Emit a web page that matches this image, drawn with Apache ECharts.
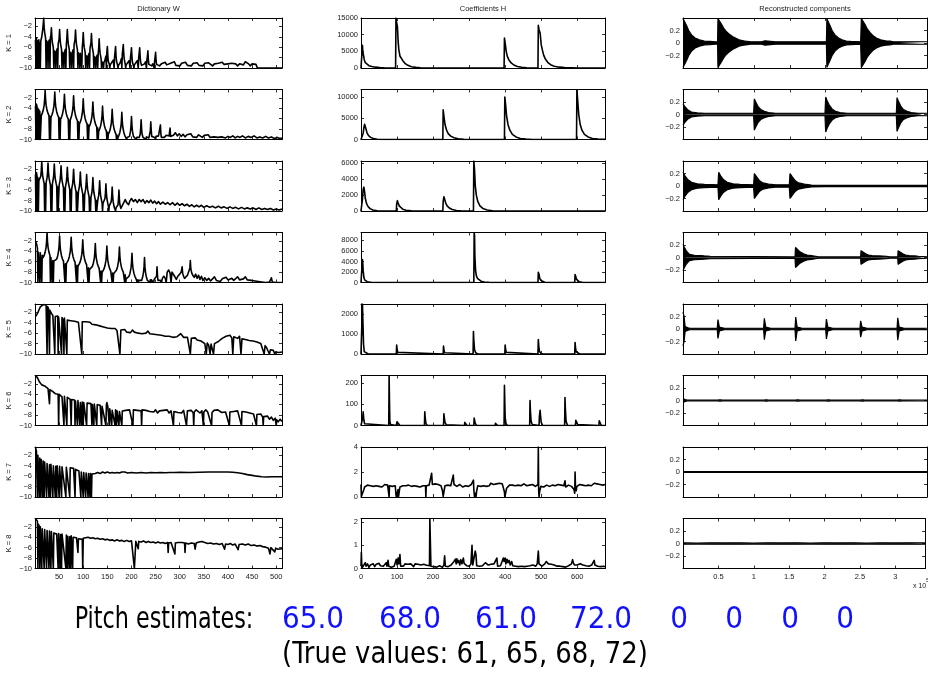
<!DOCTYPE html>
<html>
<head>
<meta charset="utf-8">
<title>NMF pitch estimation</title>
<script src="https://cdn.jsdelivr.net/npm/echarts@6.0.0/dist/echarts.min.js"></script>
<style>
  html, body { margin: 0; padding: 0; background: #fff; }
  #chart { width: 928px; height: 675px; }
</style>
</head>
<body>
<div id="chart"></div>
<script>
// Dictionary W (log spectra), [bin, value]
var W1 = [[1,-4.6],[2,-10],[3,-4.2],[4,-4.5],[5,-10],[6,-4.8],[7,-10],[8,-4.6],[9,-10],[10,-5.2],[11,-10],[12,-4.8],[14,-4],[16,-2.6],[17,-1.6],[18,-0.4],[19,-2.2],[20,-3.2],[22,-4.2],[23,-10],[24,-4.8],[26,-5.2],[27,-10],[28,-5],[30,-4.6],[31,-10],[32,-4.1],[33,-3.7],[34,-2.3],[35,-4.1],[36,-5.1],[38,-6.1],[39,-10],[40,-6.7],[42,-7.1],[43,-10],[44,-6.9],[46,-6.3],[47,-10],[48,-5.4],[50,-4.4],[51,-2.6],[52,-4.4],[53,-5.4],[55,-6.4],[56,-10],[57,-7],[59,-7.4],[60,-10],[61,-7],[63,-6.4],[64,-10],[65,-5.4],[66,-4.4],[67,-2.6],[68,-4.4],[69,-5.4],[71,-6.4],[72,-10],[73,-7],[75,-7.4],[76,-10],[77,-7.1],[79,-6.5],[80,-10],[81,-5.5],[83,-4.5],[84,-2.7],[85,-4.5],[86,-5.5],[88,-6.5],[89,-10],[90,-7.1],[92,-7.5],[93,-10],[94,-7.2],[96,-6.9],[97,-10],[98,-6],[99,-5],[100,-3.2],[101,-5],[102,-6],[104,-7],[105,-10],[106,-7.6],[108,-8],[109,-10],[110,-7.7],[112,-7.2],[113,-10],[114,-6.2],[116,-5.2],[117,-3.4],[118,-5.2],[119,-6.2],[121,-7.2],[122,-10],[123,-7.8],[125,-8.2],[126,-10],[127,-8],[129,-7.5],[130,-10],[131,-7.2],[132,-6.2],[133,-4.4],[134,-6.2],[135,-7.2],[137,-8.2],[138,-10],[139,-8.8],[141,-9.2],[142,-10],[143,-8.9],[145,-8.5],[147,-7.7],[148,-10],[149,-6.9],[150,-5.9],[151,-7.7],[152,-8.7],[154,-9.3],[155,-10],[156,-9.4],[158,-9.6],[160,-9.2],[162,-8.5],[164,-10],[165,-7.7],[166,-6.9],[167,-5.9],[168,-7.7],[169,-8.7],[171,-9.4],[172,-10],[173,-9.5],[175,-9.3],[177,-8.9],[179,-8.2],[180,-10],[181,-7.3],[182,-6.5],[183,-5.5],[184,-7.3],[185,-8.3],[187,-9.2],[188,-10],[189,-9.4],[191,-9.5],[193,-9.1],[195,-8.6],[197,-10],[198,-7.9],[199,-7.1],[200,-6.1],[201,-7.9],[202,-8.9],[204,-9.5],[205,-10],[206,-9.4],[208,-9.6],[210,-9.2],[212,-8.6],[214,-10],[215,-7.9],[216,-7.1],[217,-6.1],[218,-7.9],[219,-8.9],[221,-9.5],[223,-9.3],[225,-9.6],[227,-9.2],[229,-8.8],[231,-10],[232,-8.5],[233,-7.7],[234,-6.7],[235,-8.5],[236,-9.3],[238,-9.6],[240,-9.3],[242,-9.6],[244,-9.2],[246,-8.9],[247,-10],[248,-8.6],[249,-7.9],[250,-7],[251,-8.6],[252,-9.3],[254,-9.5],[256,-9.2],[258,-9.6],[262,-9.2],[266,-9.5],[270,-8.9],[273,-9.4],[277,-9.6],[281,-9.1],[285,-9.4],[289,-8.8],[292,-9.5],[296,-9.3],[300,-9.6],[304,-9.1],[308,-9.4],[312,-8.9],[316,-9.5],[320,-9.2],[324,-9.6],[328,-9.1],[332,-9.4],[336,-9],[340,-9.5],[344,-9.2],[348,-9.6],[352,-9.1],[356,-9.4],[360,-9],[364,-9.3],[368,-9.6],[372,-9.2],[376,-9.5],[380,-9.1],[384,-9.4],[388,-8.9],[392,-9.3],[396,-9.6],[400,-9.2],[404,-9.5],[408,-9.1],[412,-9.4],[416,-9.2],[420,-9.6],[424,-9.2],[428,-8.9],[432,-9.4],[436,-8.8],[440,-8.6],[443,-9.2],[446,-9.6],[450,-9.2],[454,-9.5],[458,-9.3],[461,-10],[512,-10]];
var W2 = [[1,-3.5],[2,-10],[3,-3.2],[4,-3.6],[5,-10],[6,-4],[7,-10],[8,-4.3],[9,-10],[10,-4.6],[11,-10],[13,-5.4],[15,-5],[17,-4.4],[19,-3.4],[20,-2.4],[21,-0.6],[22,-2.4],[23,-3.4],[25,-4.4],[27,-5],[29,-5.4],[30,-10],[31,-5.6],[32,-10],[33,-5.7],[35,-5.3],[37,-4.7],[39,-3.7],[40,-2.7],[41,-0.9],[42,-2.7],[43,-3.7],[45,-4.7],[47,-5.3],[49,-5.7],[50,-10],[51,-5.9],[52,-10],[53,-6.1],[55,-5.7],[57,-5.1],[59,-4.1],[60,-3.1],[61,-1.3],[62,-3.1],[63,-4.1],[65,-5.1],[67,-5.7],[69,-6.1],[70,-10],[71,-6.3],[72,-10],[73,-6.3],[74,-6],[76,-5.4],[78,-4.4],[79,-3.4],[80,-1.6],[81,-3.4],[82,-4.4],[84,-5.4],[86,-6],[88,-6.4],[89,-10],[90,-6.6],[91,-10],[92,-7],[94,-6.6],[96,-6],[98,-5],[99,-4],[100,-2.2],[101,-4],[102,-5],[104,-6],[106,-6.6],[108,-7],[109,-10],[110,-7.2],[111,-10],[112,-7.6],[114,-7.2],[116,-6.6],[118,-5.6],[119,-4.6],[120,-2.8],[121,-4.6],[122,-5.6],[124,-6.6],[126,-7.2],[128,-7.6],[129,-10],[130,-7.8],[131,-10],[132,-8.4],[134,-8],[136,-7.4],[138,-6.4],[139,-5.4],[140,-3.6],[141,-5.4],[142,-6.4],[144,-7.4],[146,-8],[148,-8.4],[149,-10],[150,-8.6],[151,-10],[152,-9],[154,-8.6],[156,-8],[158,-7],[159,-6],[160,-4.2],[161,-6],[162,-7],[164,-8],[166,-8.6],[168,-9],[169,-10],[170,-9.2],[171,-10],[172,-9.6],[174,-9.2],[176,-8.6],[178,-7.6],[179,-6.6],[180,-4.8],[181,-6.6],[182,-7.6],[184,-8.6],[186,-9.2],[188,-9.6],[190,-10],[191,-9.6],[194,-9.6],[196,-9.4],[198,-8.4],[199,-7.4],[200,-5.6],[201,-7.4],[202,-8.4],[204,-9.4],[206,-9.7],[208,-9.5],[210,-10],[211,-9.6],[214,-9.6],[216,-9.6],[218,-9],[219,-8],[220,-6.2],[221,-8],[222,-9],[224,-9.6],[226,-9.4],[228,-9.7],[230,-10],[231,-9.5],[234,-9.5],[236,-9.7],[238,-9.4],[239,-8.4],[240,-6.6],[241,-8.4],[242,-9.4],[244,-9.7],[246,-9.3],[248,-9.6],[250,-10],[251,-9.4],[254,-9.6],[256,-9.3],[258,-9.6],[259,-9],[260,-7.2],[261,-9],[262,-9.6],[265,-9.3],[268,-9.6],[272,-9.2],[276,-9.5],[278,-9.3],[279,-9.2],[280,-7.8],[281,-9.4],[283,-9.6],[287,-9.2],[291,-8.7],[295,-9.3],[299,-8.9],[303,-9.4],[307,-9],[311,-9.5],[315,-9.1],[319,-9.4],[323,-8.9],[327,-9.5],[331,-9.2],[335,-9.6],[339,-9.1],[343,-9.4],[347,-9.6],[351,-9.2],[355,-9.5],[359,-9.1],[363,-9.6],[367,-9.3],[371,-9.5],[375,-9.2],[379,-9.6],[383,-9.3],[387,-9.5],[391,-9.2],[395,-9.7],[400,-9.4],[405,-9.6],[410,-9.3],[415,-9.7],[420,-9.4],[425,-9.6],[430,-9.3],[436,-9.7],[442,-9.4],[448,-9.6],[454,-9.3],[460,-9.7],[466,-9.5],[472,-9.7],[478,-9.4],[484,-9.7],[490,-9.5],[496,-9.8],[502,-9.6],[508,-9.8],[512,-9.7]];
var W3 = [[1,-3],[2,-10],[3,-2.6],[4,-3.2],[5,-10],[6,-3.6],[7,-10],[8,-4.2],[10,-4.3],[12,-3.3],[13,-2.3],[14,-0.5],[15,-2.3],[16,-3.3],[18,-4.3],[19,-4.7],[20,-10],[21,-4.8],[22,-10],[23,-4.6],[25,-3.6],[26,-2.6],[27,-0.8],[28,-2.6],[29,-3.6],[31,-4.6],[32,-5],[33,-10],[34,-5.1],[35,-10],[36,-4.8],[38,-3.8],[39,-2.8],[40,-1],[41,-2.8],[42,-3.8],[44,-4.8],[45,-5.2],[46,-10],[47,-5.4],[48,-10],[50,-5.1],[52,-4.1],[53,-3.1],[54,-1.3],[55,-3.1],[56,-4.1],[58,-5.1],[59,-5.5],[60,-10],[61,-5.7],[62,-10],[63,-5.4],[65,-4.4],[66,-3.4],[67,-1.6],[68,-3.4],[69,-4.4],[71,-5.4],[72,-5.8],[73,-10],[74,-6],[75,-10],[76,-5.8],[78,-4.8],[79,-3.8],[80,-2],[81,-3.8],[82,-4.8],[84,-5.8],[85,-6.2],[86,-10],[87,-6.4],[88,-10],[90,-6.3],[92,-5.3],[93,-4.3],[94,-2.5],[95,-4.3],[96,-5.3],[98,-6.3],[99,-6.7],[100,-10],[101,-6.9],[102,-10],[103,-6.8],[105,-5.8],[106,-4.8],[107,-3],[108,-4.8],[109,-5.8],[111,-6.8],[112,-7.2],[113,-10],[114,-7.4],[115,-10],[116,-7.4],[118,-6.4],[119,-5.4],[120,-3.6],[121,-5.4],[122,-6.4],[124,-7.4],[125,-7.8],[126,-10],[127,-8],[128,-10],[130,-8],[132,-7],[133,-6],[134,-4.2],[135,-6],[136,-7],[138,-8],[139,-8.4],[140,-10],[141,-8.5],[143,-8.6],[145,-7.6],[146,-6.6],[147,-4.8],[148,-6.6],[149,-7.6],[151,-8.6],[152,-9],[153,-10],[154,-9],[156,-9.2],[158,-8.2],[159,-7.2],[160,-5.4],[161,-7.2],[162,-8.2],[164,-9.2],[166,-9.5],[167,-10],[168,-9.4],[170,-9.5],[172,-8.8],[173,-7.8],[174,-6],[175,-7.8],[176,-8.8],[178,-9.5],[180,-9.3],[184,-8.4],[187,-7.8],[190,-8.4],[194,-8.8],[197,-8],[200,-7.6],[204,-8.2],[208,-7.8],[212,-8.4],[216,-7.8],[220,-8.2],[224,-7.8],[228,-8.5],[232,-8],[236,-8.4],[240,-7.9],[244,-8.5],[248,-8.1],[252,-8.6],[256,-8.2],[260,-8.7],[265,-8.3],[270,-8.7],[275,-8.4],[280,-8.8],[285,-8.4],[290,-8.9],[295,-8.5],[300,-8.9],[305,-8.6],[310,-9],[315,-8.7],[320,-9.1],[325,-8.8],[330,-9.2],[335,-8.9],[340,-9.2],[345,-8.9],[350,-9.3],[356,-9],[362,-9.3],[368,-9.1],[374,-9.4],[380,-9.1],[386,-9.4],[392,-9.2],[398,-9.5],[404,-9.2],[410,-9.5],[416,-9.3],[422,-9.6],[428,-9.3],[434,-9.6],[440,-9.4],[446,-9.6],[452,-9.4],[458,-9.7],[464,-9.4],[470,-9.7],[476,-9.5],[482,-9.7],[488,-9.5],[494,-9.8],[500,-9.6],[506,-9.8],[512,-9.6]];
var W4 = [[1,-2.1],[3,-2.5],[5,-3.4],[6,-10],[7,-4.2],[9,-4.4],[10,-10],[11,-4.3],[13,-4.5],[14,-10],[15,-4.8],[17,-5.2],[19,-4.8],[21,-4.2],[23,-3.2],[24,-2.2],[25,-0.4],[26,-2.2],[27,-3.2],[29,-4.2],[31,-4.8],[32,-10],[33,-5.2],[35,-5.5],[36,-10],[37,-5.8],[38,-10],[39,-5.9],[41,-6.2],[43,-5.9],[45,-5.5],[47,-4.9],[49,-3.9],[50,-2.9],[51,-1.1],[52,-2.9],[53,-3.9],[55,-4.9],[57,-5.5],[59,-5.9],[61,-6.2],[62,-10],[63,-6.4],[64,-10],[65,-6.4],[67,-6.1],[69,-5.7],[71,-5.1],[73,-4.1],[74,-3.1],[75,-1.3],[76,-3.1],[77,-4.1],[79,-5.1],[81,-5.7],[83,-6.1],[85,-6.4],[86,-10],[87,-6.7],[88,-10],[89,-6.9],[91,-6.6],[93,-6.2],[95,-5.6],[97,-4.6],[98,-3.6],[99,-1.8],[100,-3.6],[101,-4.6],[103,-5.6],[105,-6.2],[107,-6.6],[109,-6.9],[110,-10],[111,-7.2],[112,-10],[113,-7.5],[115,-7.6],[117,-7.3],[119,-6.9],[121,-6.3],[123,-5.3],[124,-4.3],[125,-2.5],[126,-4.3],[127,-5.3],[129,-6.3],[131,-6.9],[133,-7.3],[135,-7.6],[136,-10],[137,-7.8],[138,-10],[139,-8.1],[141,-7.8],[143,-7.4],[145,-6.8],[147,-5.8],[148,-4.8],[149,-3],[150,-4.8],[151,-5.8],[153,-6.8],[155,-7.4],[157,-7.8],[159,-8.1],[160,-10],[161,-8.2],[162,-10],[163,-8.3],[165,-8.3],[167,-8],[169,-7.6],[171,-7],[173,-6],[174,-5],[175,-3.2],[176,-5],[177,-6],[179,-7],[181,-7.6],[183,-8],[185,-8.3],[186,-10],[187,-8.5],[188,-10],[189,-9.3],[191,-9.5],[193,-9.2],[195,-8.8],[197,-8.2],[199,-7.2],[200,-6.2],[201,-4.4],[202,-6.2],[203,-7.2],[205,-8.2],[207,-8.8],[209,-9.2],[211,-9.5],[212,-10],[213,-9.5],[214,-10],[215,-9.6],[217,-9.6],[219,-9.6],[221,-9.6],[223,-9],[225,-8],[226,-7],[227,-5.2],[228,-7],[229,-8],[231,-9],[233,-9.6],[235,-9.4],[237,-9.7],[238,-10],[239,-9.5],[240,-10],[241,-9.5],[244,-9.7],[246,-10],[247,-9.4],[249,-9.7],[251,-9.4],[252,-8.8],[253,-7],[254,-8.8],[255,-9.6],[257,-9.3],[260,-9.6],[262,-10],[264,-9.2],[267,-8.8],[270,-9.2],[272,-10],[274,-8],[277,-7.6],[280,-8.2],[282,-10],[284,-8],[287,-7.8],[290,-8.9],[293,-9.4],[296,-8.8],[300,-8.4],[303,-8],[305,-7],[306,-8.2],[308,-8.8],[310,-9.2],[313,-9.3],[316,-8.6],[319,-7.8],[321,-7.2],[322,-5.8],[323,-7.4],[325,-8.2],[327,-8.6],[330,-9],[333,-8.4],[336,-9.2],[339,-8.6],[342,-9.4],[345,-8.8],[348,-9.6],[352,-9.1],[356,-9.6],[360,-9.2],[364,-9.7],[368,-9.3],[372,-8.9],[376,-9.6],[380,-9.4],[384,-9.8],[388,-9.3],[392,-9.6],[396,-9],[400,-9.5],[404,-9.7],[408,-9.2],[412,-9.6],[416,-9.4],[420,-8.9],[424,-9.5],[428,-9.7],[432,-9.3],[436,-8.9],[440,-9.5],[444,-9.8],[448,-9.6],[452,-9.9],[456,-9.7],[460,-10],[470,-9.9],[478,-10],[486,-9.9],[490,-9.1],[492,-9.9],[500,-10],[512,-10]];
var W5 = [[1,-2.8],[4,-2.4],[7,-1.8],[11,-0.95],[14,-0.7],[17,-0.5],[20,-0.7],[23,-0.6],[25,-10],[26,-0.9],[28,-1.3],[30,-10],[31,-1.6],[34,-2.2],[37,-2.6],[40,-2.4],[41,-10],[42,-2.8],[45,-3],[47,-2.7],[48,-10],[49,-2.9],[52,-3.2],[55,-10],[56,-3],[58,-3.4],[60,-10],[61,-3.1],[64,-3.3],[66,-10],[67,-3.5],[70,-3.2],[74,-3.6],[78,-3.3],[82,-3.7],[86,-3.4],[90,-3.9],[94,-3.6],[97,-10],[98,-3.8],[102,-4],[106,-3.8],[110,-4.1],[114,-3.9],[118,-4.3],[122,-4.1],[126,-4.4],[130,-4.3],[134,-4.6],[138,-4.4],[142,-4.8],[146,-4.6],[150,-5],[154,-4.8],[158,-5.1],[162,-5.3],[166,-5.1],[170,-5.5],[174,-5.2],[176,-10],[178,-5.4],[182,-5.7],[186,-5.3],[190,-5.8],[194,-5.5],[198,-5.9],[202,-5.4],[206,-5.8],[210,-5.6],[214,-6],[218,-5.7],[222,-6.1],[226,-5.8],[230,-6],[234,-5.6],[238,-6.1],[242,-5.8],[246,-6.2],[250,-6],[254,-6.3],[258,-6.1],[262,-6.4],[266,-6.2],[270,-6.6],[274,-6.4],[278,-6.6],[282,-6.4],[286,-6.8],[290,-6.6],[294,-6.7],[298,-6.5],[302,-6.1],[305,-6.4],[308,-6.8],[312,-7],[316,-6.8],[320,-7.1],[322,-10],[324,-7],[328,-7.2],[332,-6.9],[336,-7.3],[340,-7.1],[344,-7.5],[348,-7.8],[352,-8],[355,-10],[357,-7.9],[360,-8.3],[363,-10],[365,-8.1],[368,-8.4],[370,-10],[372,-8],[376,-8.3],[380,-7.6],[384,-7.9],[388,-7],[392,-7.2],[396,-6.6],[400,-6.8],[404,-6.4],[408,-6.9],[410,-10],[412,-6.7],[416,-6.5],[420,-7],[424,-6.6],[427,-10],[429,-7.1],[432,-6.8],[436,-7.2],[440,-7],[444,-7.4],[448,-7.1],[452,-7.5],[456,-7.2],[460,-7.7],[464,-7.5],[468,-8],[472,-8.3],[475,-10],[477,-8.4],[480,-8.8],[483,-9],[486,-10],[488,-9.2],[491,-9.5],[494,-9.3],[497,-10],[499,-9.6],[502,-9.4],[505,-9.7],[508,-9.5],[512,-9.6]];
var W6 = [[1,-0.4],[3,-0.4],[5,-0.8],[7,-1],[9,-1.6],[11,-1.9],[14,-2.2],[17,-2],[20,-2.4],[22,-2.6],[24,-2.5],[27,-2.9],[29,-3.2],[30,-5.8],[31,-3.1],[34,-3.3],[37,-3.5],[40,-3.7],[42,-3.9],[45,-3.8],[48,-4],[49,-10],[50,-4],[53,-4.3],[56,-4.5],[59,-4.3],[60,-10],[61,-4.4],[64,-4.6],[66,-10],[67,-4.6],[70,-4.8],[73,-5],[75,-10],[76,-5],[79,-5.2],[82,-5.1],[83,-10],[84,-5.3],[87,-5.4],[88,-10],[89,-5.2],[92,-5.5],[93,-10],[94,-5.6],[97,-10],[98,-5.5],[100,-10],[101,-5.6],[104,-5.8],[107,-10],[108,-5.7],[112,-5.9],[116,-5.8],[118,-10],[119,-6],[122,-10],[123,-5.9],[126,-6.1],[128,-10],[129,-6],[132,-6.2],[135,-6.1],[138,-10],[139,-6.3],[143,-6.2],[147,-10],[148,-6],[149,-5.6],[151,-6.4],[154,-10],[155,-6.8],[157,-7],[159,-10],[160,-7.1],[163,-7.2],[166,-10],[167,-7],[169,-10],[170,-7.2],[173,-7.1],[174,-10],[175,-7.3],[178,-7.1],[180,-10],[181,-7.2],[184,-6.9],[188,-7.1],[192,-6.8],[196,-7],[200,-7.2],[203,-10],[204,-7],[208,-6.8],[212,-7.1],[216,-6.9],[220,-7.2],[221,-10],[222,-7],[226,-6.8],[230,-7.1],[234,-6.9],[238,-7.3],[242,-7],[246,-7.4],[250,-7],[254,-7.6],[258,-7.2],[262,-7.5],[266,-7.1],[270,-7.4],[274,-7],[278,-7.6],[282,-7.2],[286,-7.4],[287,-10],[288,-7.3],[292,-7],[296,-7.5],[300,-7.2],[304,-7.6],[308,-7.1],[312,-7.3],[314,-10],[316,-7.2],[320,-7.5],[324,-7.1],[328,-7.6],[329,-10],[330,-7.4],[334,-7],[338,-7.3],[342,-7.6],[346,-7.2],[349,-10],[350,-7.4],[354,-7],[358,-7.4],[362,-7.2],[366,-10],[367,-7.5],[371,-7.1],[375,-7.4],[379,-7],[383,-7.3],[387,-7.5],[391,-7.2],[395,-7.4],[399,-7.1],[403,-10],[404,-7.4],[408,-7.1],[412,-7.3],[416,-7],[420,-7.2],[424,-7.5],[428,-10],[429,-7.3],[433,-7.1],[437,-7.4],[441,-7.2],[445,-7.6],[449,-7.3],[453,-7.8],[457,-7.5],[459,-10],[460,-7.9],[464,-8.2],[468,-7.8],[472,-8.4],[473,-10],[474,-8.3],[478,-8.6],[482,-8.2],[486,-8.8],[490,-8.4],[494,-9],[498,-8.6],[500,-10],[501,-8.9],[504,-9.3],[508,-8.8],[512,-9.2]];
var W7 = [[1,-0.5],[3,-1.2],[5,-10],[6,-2],[8,-2.3],[9,-10],[10,-2.5],[12,-10],[13,-2.8],[15,-3],[16,-10],[17,-3.1],[19,-10],[20,-3.3],[22,-3.2],[24,-10],[25,-3.6],[27,-3.5],[29,-10],[30,-3.8],[32,-10],[33,-3.7],[35,-3.9],[37,-10],[38,-4],[40,-3.8],[42,-10],[43,-4.1],[45,-10],[46,-4],[48,-4.2],[50,-10],[51,-4.1],[53,-4.3],[55,-10],[56,-4.2],[60,-4.4],[64,-10],[65,-4.3],[68,-4.5],[72,-10],[73,-4.4],[77,-4.6],[80,-4.5],[83,-10],[84,-4.7],[88,-4.8],[91,-5],[95,-10],[96,-5.2],[98,-5.4],[100,-10],[101,-5.3],[103,-5.5],[105,-10],[106,-5.4],[108,-5.6],[110,-10],[111,-5.5],[113,-5.6],[114,-10],[115,-5.5],[117,-10],[118,-5.6],[121,-5.4],[125,-5.5],[130,-5.3],[135,-5.5],[140,-5.2],[145,-5.4],[150,-5.2],[155,-5.4],[160,-5.3],[165,-5.4],[170,-5.3],[175,-5.4],[180,-5.2],[183,-4.9],[186,-5.2],[192,-5.4],[200,-5.3],[210,-5.4],[220,-5.3],[230,-5.4],[240,-5.3],[250,-5.35],[260,-5.3],[270,-5.35],[280,-5.3],[290,-5.3],[300,-5.25],[320,-5.3],[340,-5.25],[360,-5.2],[380,-5.2],[400,-5.2],[410,-5.25],[420,-5.35],[430,-5.5],[440,-5.7],[450,-5.85],[460,-6],[470,-6.1],[480,-6.15],[490,-6.1],[500,-6.1],[512,-6.1]];
var W8 = [[1,-0.4],[3,-0.6],[5,-0.9],[6,-10],[7,-1.5],[9,-1.9],[10,-10],[11,-2],[13,-2.2],[14,-10],[15,-2.4],[17,-2.6],[19,-10],[20,-2.5],[22,-2.8],[24,-10],[25,-2.7],[27,-2.9],[29,-10],[30,-2.8],[32,-3],[33,-10],[34,-2.9],[36,-3.1],[38,-10],[39,-3.2],[42,-3.1],[45,-3.4],[48,-10],[49,-3.3],[52,-10],[53,-3.5],[55,-10],[56,-3.4],[60,-3.7],[64,-10],[65,-3.6],[67,-10],[68,-3.8],[71,-10],[72,-3.9],[74,-10],[75,-3.7],[78,-10],[79,-4],[83,-4.2],[86,-4.1],[89,-6.9],[90,-4.3],[94,-4.1],[98,-4.4],[99,-10],[100,-4.2],[105,-4.1],[110,-4],[115,-4.2],[120,-4.1],[125,-4.3],[130,-4.2],[135,-4.4],[140,-4.3],[145,-4.5],[150,-4.4],[155,-4.6],[160,-4.5],[165,-4.7],[170,-4.5],[175,-4.7],[180,-4.6],[185,-4.8],[190,-4.6],[195,-4.8],[200,-4.7],[204,-4.9],[206,-10],[208,-10],[209,-4.8],[213,-4.9],[214,-6.2],[215,-4.8],[220,-4.9],[225,-4.7],[230,-5],[235,-4.8],[240,-5],[245,-4.9],[250,-5.1],[255,-4.9],[260,-5.1],[265,-5],[270,-5.2],[275,-5],[276,-6.9],[277,-5.1],[282,-5],[286,-5.2],[290,-7.2],[291,-5.1],[296,-5],[300,-5.2],[305,-5],[310,-5.1],[311,-6.9],[312,-5.1],[318,-5.3],[324,-5.1],[330,-5.2],[332,-6.3],[334,-5.1],[340,-4.9],[346,-4.8],[352,-5],[358,-5.2],[364,-5.1],[370,-5.3],[376,-5.2],[382,-5.4],[388,-5.2],[393,-6.3],[395,-5.3],[400,-5.4],[405,-5.2],[410,-5.5],[415,-5.3],[421,-6.4],[423,-5.4],[430,-5.3],[436,-5.5],[442,-5.3],[448,-5.6],[454,-5.5],[460,-5.7],[466,-5.6],[472,-5.8],[478,-5.9],[484,-6.1],[487,-7.2],[489,-6],[493,-6.2],[497,-6.8],[499,-6.1],[504,-6.3],[508,-6.1],[512,-6.2]];

// Coefficients H (activations), [frame, value]
var H1 = [[0,0],[3,0],[4,6800],[5,5000],[7,3800],[8,4000],[9,2500],[12,1600],[16,1100],[22,700],[30,450],[40,250],[52,100],[65,30],[80,0],[96,0],[97,15000],[99,13500],[101,12500],[103,8000],[105,5500],[108,3600],[112,3000],[116,2200],[122,1400],[130,800],[140,400],[152,180],[165,70],[185,0],[397,0],[398,9000],[400,7500],[403,5000],[406,3500],[410,2500],[416,1600],[424,900],[434,450],[446,200],[460,80],[480,0],[491,0],[492,12800],[494,11500],[497,10500],[500,7000],[503,5500],[507,3800],[512,2600],[518,1700],[526,1000],[536,550],[550,250],[565,100],[585,30],[600,0],[677,0]];
var H2 = [[0,0],[5,0],[6,1500],[8,2800],[10,3600],[12,3300],[14,2400],[17,1500],[21,900],[27,500],[35,200],[45,60],[60,0],[227,0],[228,7000],[230,5500],[233,3600],[237,2300],[242,1400],[249,800],[258,400],[270,150],[285,40],[300,0],[398,0],[399,10000],[401,8500],[404,5500],[408,3500],[413,2200],[420,1200],[430,600],[442,250],[458,80],[475,0],[598,0],[599,11800],[601,9500],[604,6000],[608,3600],[613,2200],[620,1200],[630,600],[642,250],[658,80],[677,20]];
var H3 = [[0,0],[3,0],[4,1500],[6,2700],[8,3000],[10,2400],[12,1600],[15,1000],[19,600],[25,300],[33,120],[45,30],[60,0],[98,0],[99,900],[101,1300],[103,1000],[106,650],[110,400],[116,220],[125,90],[140,20],[155,0],[227,0],[228,1200],[230,1800],[232,1500],[235,1000],[239,650],[245,380],[253,180],[265,60],[280,0],[312,0],[313,6300],[315,5200],[317,3200],[320,2000],[324,1200],[330,650],[338,320],[350,120],[365,30],[380,0],[677,0]];
var H4 = [[0,0],[3,0],[4,4350],[5,3600],[6,2300],[8,1000],[10,500],[13,300],[17,150],[22,60],[30,0],[313,0],[314,9500],[315,9000],[316,5000],[318,2200],[320,1300],[323,800],[327,450],[333,250],[342,100],[355,20],[370,0],[491,0],[492,1950],[494,1500],[496,800],[499,400],[503,200],[510,60],[520,0],[593,0],[594,1500],[596,1100],[598,600],[601,300],[606,120],[614,30],[625,0],[677,0]];
var H5 = [[0,0],[3,0],[4,2500],[6,2500],[7,500],[9,120],[13,30],[20,0],[98,0],[99,450],[100,250],[102,80],[106,0],[228,0],[229,400],[230,220],[232,60],[236,0],[311,0],[312,1120],[313,700],[315,220],[318,60],[324,0],[399,0],[400,450],[401,250],[403,80],[408,0],[491,0],[492,725],[493,450],[495,140],[499,30],[505,0],[593,0],[594,570],[595,350],[597,110],[601,20],[607,0],[677,0]];
var H6 = [[0,0],[4,0],[5,40],[6,65],[7,60],[8,25],[10,8],[14,0],[77,0],[78,237],[79,120],[80,20],[82,5],[86,0],[98,0],[100,18],[102,20],[104,10],[108,0],[176,0],[177,65],[178,40],[180,10],[184,0],[229,0],[230,55],[231,40],[233,15],[237,3],[242,0],[287,0],[288,15],[290,10],[294,0],[313,0],[314,35],[315,30],[317,10],[321,0],[372,0],[373,10],[375,6],[379,0],[397,0],[398,190],[399,110],[400,40],[402,10],[406,0],[468,0],[469,118],[470,70],[472,20],[475,5],[480,0],[494,0],[495,45],[497,72],[498,50],[500,15],[504,0],[565,0],[566,133],[567,80],[569,20],[573,0],[595,0],[596,25],[598,20],[601,5],[605,0],[660,0],[661,22],[663,15],[667,0],[677,0]];
var H7 = [[0,1.0],[1,0.05],[3,0],[6,0.1],[8,0.6],[10,0.8],[14,0.85],[18,0.95],[22,0.85],[26,0.9],[30,1.0],[34,0.85],[38,0.95],[42,0.9],[46,1.0],[50,0.85],[54,0.95],[58,0.8],[62,0.9],[66,1.0],[70,0.85],[74,0.95],[77,0.9],[78,0],[79,0.9],[83,0.95],[87,0.85],[91,1.0],[95,0.9],[97,0.2],[98,0],[100,0.05],[103,0.6],[104,0],[106,0.1],[108,0.8],[112,0.95],[116,0.9],[120,1.05],[124,0.9],[128,1.0],[132,0.95],[136,1.05],[140,0.85],[144,0.95],[148,0.9],[152,1.0],[156,0.85],[160,0.9],[164,0.8],[168,0.95],[172,0.9],[176,0.85],[179,0.9],[180,0],[181,0.9],[185,1.0],[189,0.95],[193,1.1],[196,1.9],[198,1.0],[202,0.95],[206,1.05],[210,0.9],[214,1.0],[218,0.85],[222,0.9],[226,0.5],[228,0.05],[230,0.4],[233,0.9],[237,1.0],[241,0.95],[245,1.05],[249,0.9],[253,1.0],[256,1.75],[258,1.0],[262,0.95],[266,0.85],[270,0.9],[274,1.0],[278,0.85],[282,0.8],[286,0.95],[290,0.9],[294,1.0],[298,0.85],[302,0.75],[306,1.0],[310,1.1],[312,1.35],[313,0.6],[315,0],[317,0.3],[319,0],[321,0.5],[324,0.9],[328,0.95],[332,0.85],[336,1.0],[340,0.9],[344,0.95],[348,0.85],[352,1.0],[356,0.9],[360,1.1],[364,0.95],[368,1.0],[372,0.85],[376,1.05],[380,0.95],[384,1.1],[388,1.0],[392,1.05],[396,0.9],[398,0.4],[399,0],[401,0.05],[404,0.7],[408,0.85],[412,0.95],[416,1.05],[420,0.95],[424,1.0],[428,0.9],[432,1.05],[436,0.95],[440,1.0],[444,0.9],[448,0.95],[452,1.05],[456,0.95],[460,0.9],[464,1.0],[468,0.95],[472,0.9],[476,1.0],[480,0.95],[484,0.85],[488,0.9],[491,1.0],[492,4],[493,0.5],[494,0],[496,0.5],[499,0.85],[503,0.95],[507,0.8],[511,0.9],[515,0.95],[519,1.0],[523,0.85],[527,0.9],[531,0.95],[535,0.85],[539,0.9],[543,0.95],[547,1.0],[551,0.85],[555,0.95],[559,1.05],[563,0.9],[566,1.3],[568,0.8],[572,0.9],[576,0.95],[580,1.0],[584,0.85],[588,0.9],[591,0.6],[593,0.3],[594,2.0],[595,0.9],[597,0.5],[599,0.85],[603,0.95],[607,1.0],[611,0.9],[615,0.95],[619,1.05],[623,0.9],[627,1.0],[631,0.95],[635,1.05],[639,0.9],[643,1.0],[647,1.1],[651,0.95],[655,1.05],[659,0.9],[663,1.0],[667,1.1],[671,0.95],[674,1.05],[677,1.0]];
var H8 = [[0,0.1],[1,0.7],[2,0.2],[4,0.05],[8,0.15],[12,0.25],[14,0.1],[18,0.2],[22,0.05],[26,0.15],[30,0.1],[34,0.2],[38,0.08],[42,0.18],[46,0.1],[50,0.22],[54,0.12],[58,0.2],[62,0.1],[66,0.15],[70,0.25],[72,0.1],[75,0.35],[77,0.1],[80,0.15],[84,0.05],[88,0.12],[92,0.1],[96,0.3],[98,0.4],[100,0.15],[103,0.45],[105,0.2],[108,0.6],[110,0.1],[114,0.15],[118,0.1],[122,0.2],[126,0.12],[130,0.18],[134,0.1],[138,0.2],[142,0.15],[146,0.08],[150,0.2],[154,0.12],[158,0.18],[162,0.1],[166,0.15],[170,0.12],[174,0.18],[178,0.1],[182,0.14],[186,0.1],[190,0.12],[191,2.15],[193,2.15],[194,0.1],[198,0.12],[202,0.08],[206,0.1],[210,0.06],[214,0.08],[218,0.12],[222,0.1],[226,0.05],[230,0.15],[232,0.55],[234,0.1],[238,0.12],[242,0.08],[246,0.1],[250,0.15],[254,0.2],[258,0.3],[262,0.4],[264,0.2],[266,0.42],[268,0.25],[271,0.35],[274,0.15],[277,0.38],[280,0.2],[284,0.45],[286,0.22],[290,0.3],[293,0.12],[297,0.15],[301,0.1],[305,0.2],[308,1.0],[310,0.15],[314,0.2],[317,0.75],[319,0.6],[321,0.12],[325,0.15],[329,0.1],[333,0.18],[337,0.12],[341,0.2],[345,0.25],[349,0.2],[353,0.15],[357,0.22],[361,0.18],[365,0.12],[369,0.2],[373,0.15],[377,0.45],[379,0.1],[383,0.18],[387,0.12],[391,0.2],[395,0.45],[397,0.3],[400,0.45],[402,0.2],[405,0.4],[408,0.25],[411,0.35],[414,0.15],[418,0.3],[421,0.12],[425,0.15],[429,0.1],[433,0.14],[437,0.08],[441,0.12],[445,0.1],[449,0.13],[453,0.08],[457,0.12],[461,0.1],[465,0.15],[469,0.12],[473,0.1],[477,0.15],[481,0.12],[485,0.1],[489,0.2],[492,0.75],[494,0.2],[498,0.12],[502,0.1],[506,0.15],[510,0.2],[514,0.3],[517,0.35],[520,0.2],[524,0.25],[528,0.18],[532,0.2],[536,0.15],[540,0.12],[544,0.1],[548,0.08],[552,0.1],[556,0.05],[560,0.08],[564,0.1],[568,0.06],[572,0.08],[576,0.12],[580,0.15],[584,0.2],[587,0.38],[589,0.25],[592,0.15],[596,0.12],[600,0.15],[604,0.1],[608,0.2],[612,0.12],[616,0.15],[620,0.1],[624,0.12],[628,0.08],[632,0.1],[636,0.12],[640,0.15],[644,0.2],[647,0.35],[649,0.15],[653,0.12],[657,0.1],[661,0.15],[665,0.08],[669,0.12],[673,0.1],[677,0.08]];

// Reconstructed components: amplitude envelope, [sample / 1e5, amplitude]
var R1 = [[0,0.39],[0.02,0.37],[0.05,0.28],[0.08,0.2],[0.12,0.13],[0.17,0.08],[0.23,0.05],[0.3,0.03],[0.38,0.025],[0.45,0.02],[0.485,0.02],[0.49,0.39],[0.51,0.38],[0.54,0.3],[0.57,0.24],[0.61,0.18],[0.65,0.14],[0.7,0.1],[0.75,0.07],[0.8,0.045],[0.85,0.035],[0.88,0.03],[0.89,0.045],[0.9,0.03],[0.95,0.02],[1.1,0.02],[1.15,0.035],[1.17,0.02],[1.3,0.02],[1.58,0.02],[1.59,0.035],[1.61,0.02],[2.01,0.02],[2.017,0.39],[2.03,0.37],[2.06,0.28],[2.09,0.2],[2.13,0.13],[2.18,0.08],[2.23,0.05],[2.29,0.03],[2.35,0.025],[2.49,0.02],[2.5,0.39],[2.52,0.37],[2.55,0.3],[2.58,0.23],[2.62,0.17],[2.66,0.12],[2.71,0.08],[2.77,0.05],[2.84,0.035],[2.9,0.03],[2.95,0.02],[3.0,0.02],[3.01,0.035],[3.03,0.02],[3.42,0.02]];
var R2 = [[0,0.17],[0.03,0.12],[0.07,0.07],[0.12,0.04],[0.2,0.025],[0.3,0.02],[0.99,0.02],[1.0,0.25],[1.02,0.2],[1.05,0.13],[1.09,0.08],[1.14,0.05],[1.2,0.03],[1.3,0.02],[1.99,0.02],[2.0,0.28],[2.02,0.22],[2.05,0.15],[2.09,0.09],[2.14,0.05],[2.2,0.03],[2.3,0.02],[2.99,0.02],[3.0,0.27],[3.02,0.21],[3.05,0.14],[3.09,0.08],[3.14,0.05],[3.2,0.03],[3.3,0.02],[3.42,0.02]];
var R3 = [[0,0.22],[0.03,0.16],[0.07,0.1],[0.12,0.06],[0.2,0.035],[0.3,0.025],[0.49,0.02],[0.5,0.22],[0.53,0.16],[0.57,0.1],[0.62,0.06],[0.7,0.035],[0.8,0.025],[0.99,0.02],[1.0,0.2],[1.03,0.15],[1.07,0.09],[1.12,0.05],[1.2,0.03],[1.3,0.02],[1.49,0.02],[1.5,0.2],[1.53,0.15],[1.57,0.09],[1.62,0.05],[1.7,0.03],[1.8,0.015],[2.0,0.01],[3.42,0.01]];
var R4 = [[0,0.21],[0.02,0.16],[0.05,0.1],[0.08,0.06],[0.11,0.045],[0.16,0.035],[0.25,0.03],[0.3,0.025],[0.38,0.02],[0.4,0.01],[1.57,0.01],[1.577,0.16],[1.6,0.14],[1.64,0.09],[1.69,0.06],[1.74,0.04],[1.8,0.03],[1.86,0.02],[1.9,0.01],[2.49,0.01],[2.495,0.11],[2.52,0.1],[2.56,0.06],[2.6,0.04],[2.65,0.03],[2.75,0.025],[2.85,0.02],[2.9,0.01],[3.01,0.01],[3.015,0.11],[3.04,0.1],[3.08,0.06],[3.12,0.04],[3.17,0.03],[3.25,0.025],[3.3,0.02],[3.42,0.012]];
var R5 = [[0,0.27],[0.015,0.2],[0.03,0.04],[0.07,0.02],[0.1,0.012],[0.33,0.012],[0.34,0.02],[0.36,0.012],[0.48,0.012],[0.49,0.15],[0.5,0.13],[0.51,0.03],[0.55,0.02],[0.58,0.012],[0.82,0.012],[0.83,0.02],[0.85,0.012],[1.13,0.012],[1.14,0.17],[1.15,0.15],[1.16,0.03],[1.2,0.02],[1.23,0.012],[1.32,0.012],[1.33,0.02],[1.35,0.012],[1.57,0.012],[1.58,0.19],[1.59,0.16],[1.6,0.03],[1.64,0.02],[1.67,0.012],[1.82,0.012],[1.83,0.02],[1.85,0.012],[2.0,0.012],[2.01,0.16],[2.02,0.14],[2.03,0.03],[2.07,0.02],[2.1,0.012],[2.31,0.012],[2.32,0.02],[2.34,0.012],[2.48,0.012],[2.49,0.13],[2.5,0.11],[2.51,0.03],[2.55,0.02],[2.58,0.012],[2.8,0.012],[2.81,0.02],[2.83,0.012],[3.0,0.012],[3.01,0.18],[3.02,0.15],[3.03,0.03],[3.07,0.02],[3.1,0.012],[3.38,0.012],[3.39,0.02],[3.41,0.012],[3.42,0.012]];
var R6 = [[0,0.03],[0.03,0.015],[0.06,0.008],[0.48,0.008],[0.49,0.02],[0.52,0.012],[0.55,0.008],[1.13,0.008],[1.14,0.025],[1.17,0.012],[1.2,0.008],[1.57,0.008],[1.58,0.03],[1.61,0.012],[1.64,0.008],[2.0,0.008],[2.01,0.025],[2.04,0.012],[2.07,0.008],[2.48,0.008],[2.49,0.02],[2.52,0.012],[2.55,0.008],[3.0,0.008],[3.01,0.025],[3.04,0.012],[3.07,0.008],[3.42,0.008]];
var R7 = [[0,0.006],[3.42,0.006]];
var R8 = [[0,0.012],[0.2,0.008],[0.4,0.012],[0.6,0.01],[0.8,0.012],[1.0,0.008],[1.2,0.012],[1.4,0.01],[1.6,0.012],[1.8,0.008],[2.0,0.012],[2.2,0.01],[2.4,0.012],[2.6,0.008],[2.8,0.012],[3.0,0.01],[3.2,0.012],[3.42,0.01]];

// axis limits of the coefficient panels
var hMax = [15000, 11800, 6300, 9500, 2500, 237, 4, 2.15];
var hStep = [5000, 5000, 2000, 2000, 1000, 100, 2, 1];

var rowNames = ['K = 1', 'K = 2', 'K = 3', 'K = 4', 'K = 5', 'K = 6', 'K = 7', 'K = 8'];
var colTitles = ['Dictionary W', 'Coefficients H', 'Reconstructed components'];
var pitchEstimates = ['65.0', '68.0', '61.0', '72.0', '0', '0', '0', '0'];
var trueValues = [61, 65, 68, 72];

(function () {
    var W = [W1, W2, W3, W4, W5, W6, W7, W8];
    var H = [H1, H2, H3, H4, H5, H6, H7, H8];
    var R = [R1, R2, R3, R4, R5, R6, R7, R8];

    var FONT = '"Liberation Sans", Arial, sans-serif';
    var BIG = '"DejaVu Sans Condensed", "Liberation Sans Narrow", "Liberation Sans", sans-serif';
    var colLeft = [35, 361, 683], colWidth = [247, 244, 244];
    var rowTop0 = 18, rowStep = 71.5, rowH = 50;

    function minus(v) { return String(v).replace('-', '\u2212'); }
    function near(v, step) { return Math.abs(v / step - Math.round(v / step)) < 1e-6; }

    var grids = [], xAxis = [], yAxis = [], series = [], graphic = [];

    function addAxes(gi, xr, yr, showX) {
        ['bottom', 'top'].forEach(function (pos) {
            xAxis.push({
                gridIndex: gi, type: 'value', position: pos,
                min: xr.min, max: xr.max, interval: xr.step,
                axisLine: { onZero: false, lineStyle: { color: '#000', width: 1 } },
                axisTick: { inside: true, length: 3, lineStyle: { color: '#000', width: 0.8 } },
                axisLabel: { show: pos === 'bottom' && showX, formatter: xr.fmt, fontSize: 7.5, color: '#222', margin: 4, fontFamily: FONT },
                splitLine: { show: false }
            });
        });
        ['left', 'right'].forEach(function (pos) {
            yAxis.push({
                gridIndex: gi, type: 'value', position: pos,
                min: yr.min, max: yr.max, interval: yr.step,
                axisLine: { onZero: false, lineStyle: { color: '#000', width: 1 } },
                axisTick: { inside: true, length: 3, lineStyle: { color: '#000', width: 0.8 } },
                axisLabel: { show: pos === 'left', formatter: yr.fmt, fontSize: 7.5, color: '#222', margin: 3, fontFamily: FONT },
                splitLine: { show: false }
            });
        });
    }

    function lineSeries(gi, data) {
        return { type: 'line', xAxisIndex: 2 * gi, yAxisIndex: 2 * gi, data: data, symbol: 'none', silent: true,
            lineStyle: { color: '#000', width: 1.6, join: 'round' } };
    }

    for (var r = 0; r < 8; r++) {
        var rowTop = rowTop0 + r * rowStep;
        var last = r === 7;
        for (var c = 0; c < 3; c++) {
            var gi = grids.length;
            grids.push({ left: colLeft[c], top: rowTop, width: colWidth[c], height: rowH });
            if (c === 0) {
                addAxes(gi,
                    { min: 0, max: 512, step: 50, fmt: function (v) { return (v > 0 && v <= 500 && near(v, 50)) ? String(v) : ''; } },
                    { min: -10, max: -0.4, step: 2, fmt: function (v) { return near(v, 2) ? minus(v) : ''; } },
                    last);
                series.push(lineSeries(gi, W[r]));
            } else if (c === 1) {
                (function (step) {
                    addAxes(gi,
                        { min: 0, max: 677, step: 100, fmt: function (v) { return (v <= 600 && near(v, 100)) ? String(v) : ''; } },
                        { min: 0, max: hMax[r], step: step, fmt: function (v) { return near(v, step) ? String(v) : ''; } },
                        last);
                })(hStep[r]);
                series.push(lineSeries(gi, H[r]));
            } else {
                addAxes(gi,
                    { min: 0, max: 3.42, step: 0.5, fmt: function (v) { return (v > 0 && v < 3.4 && near(v, 0.5)) ? String(v) : ''; } },
                    { min: -0.4, max: 0.4, step: 0.2, fmt: function (v) { return (Math.abs(v) < 0.3 && near(v, 0.2)) ? minus(+v.toFixed(1)) : ''; } },
                    last);
                var env = R[r];
                [1, -1].forEach(function (sgn) {
                    series.push({
                        type: 'line', xAxisIndex: 2 * gi, yAxisIndex: 2 * gi, symbol: 'none', silent: true,
                        data: env.map(function (p) { return [p[0], sgn * p[1]]; }),
                        lineStyle: { color: '#000', width: 1.2 },
                        areaStyle: { color: '#000', opacity: 1 }
                    });
                });
            }
        }
        graphic.push({
            type: 'text', x: 9, y: rowTop + rowH / 2, rotation: Math.PI / 2,
            style: { text: rowNames[r], font: '7.5px ' + FONT, fill: '#222', align: 'center', verticalAlign: 'middle' }
        });
    }

    colTitles.forEach(function (t, c) {
        graphic.push({
            type: 'text', x: colLeft[c] + colWidth[c] / 2, y: 9,
            style: { text: t, font: '7.5px ' + FONT, fill: '#222', align: 'center', verticalAlign: 'middle' }
        });
    });
    graphic.push({ type: 'text', x: 913, y: 586, style: { text: 'x 10', font: '7px ' + FONT, fill: '#222', align: 'left', verticalAlign: 'middle' } });
    graphic.push({ type: 'text', x: 926, y: 581, style: { text: '5', font: '5px ' + FONT, fill: '#222', align: 'left', verticalAlign: 'middle' } });

    // pitch estimates under the panels (narrowed to the width of the original lettering)
    graphic.push({ type: 'text', x: 164, y: 620, scaleX: 0.8, style: { text: 'Pitch estimates:', font: '31px ' + BIG, fill: '#000', align: 'center', verticalAlign: 'middle' } });
    var estX = [313, 410, 506, 601, 679, 734, 790, 845];
    pitchEstimates.forEach(function (t, i) {
        graphic.push({ type: 'text', x: estX[i], y: 620, style: { text: t, font: '31px ' + BIG, fill: '#1010ff', align: 'center', verticalAlign: 'middle' } });
    });
    graphic.push({ type: 'text', x: 465, y: 655, scaleX: 0.93, style: { text: '(True values: ' + trueValues.join(', ') + ')', font: '31px ' + BIG, fill: '#000', align: 'center', verticalAlign: 'middle' } });

    var chart = echarts.init(document.getElementById('chart'));
    chart.setOption({
        backgroundColor: '#fff',
        animation: false,
        grid: grids,
        xAxis: xAxis,
        yAxis: yAxis,
        series: series,
        graphic: graphic
    });
})();
</script>
</body>
</html>
